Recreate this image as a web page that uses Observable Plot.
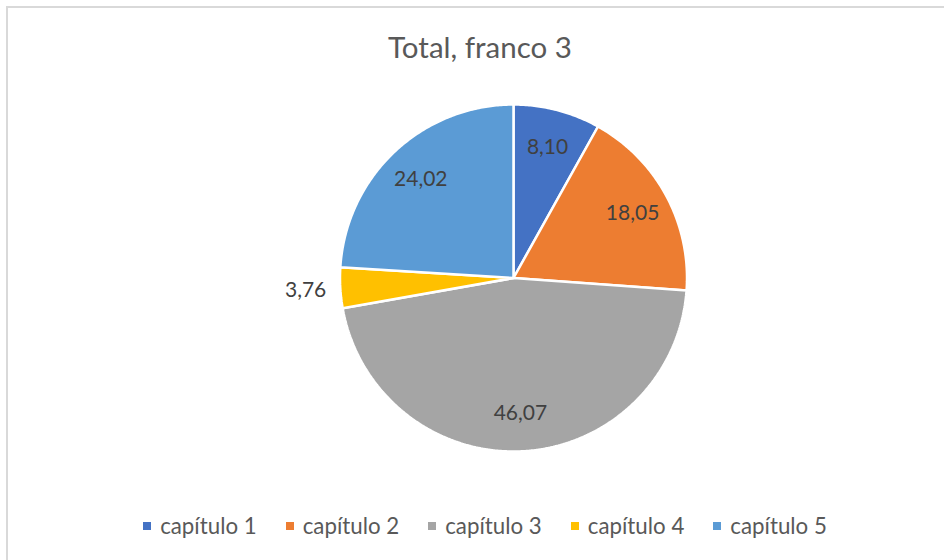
<!DOCTYPE html>
<html>
<head>
<meta charset="utf-8">
<script src="https://cdn.jsdelivr.net/npm/d3@7"></script>
<script src="https://cdn.jsdelivr.net/npm/@observablehq/plot@0.6"></script>
<style>
  html, body { margin: 0; padding: 0; background: #fff; overflow: hidden; }
  #wrap { position: relative; width: 944px; height: 560px; overflow: hidden; font-family: Lato, "Open Sans", sans-serif; }
  #frame { position: absolute; left: 6px; top: 6px; width: 1000px; height: 1000px; border: 2px solid #d9d9d9; box-sizing: border-box; pointer-events: none; }
  #title { height: 80px; text-align: center; font-size: 29.5px; color: #595959; line-height: 30px; padding-top: 32px; box-sizing: border-box; width: 960px; }
  #chart svg { display: block; }
  #legend { height: 60px; display: flex; justify-content: center; align-items: center; font-size: 22.3px; color: #595959; width: 970px; margin-top: -5px; }
  .item { display: flex; align-items: center; margin: 0 14.5px; }
  .sw { width: 8px; height: 8px; margin-right: 9px; margin-top: 2px; }
</style>
</head>
<body>
<div id="wrap">
  <div id="title">Total, franco 3</div>
  <div id="chart"></div>
  <div id="legend"></div>
  <div id="frame"></div>
</div>
<script>
const categories = ["capítulo 1", "capítulo 2", "capítulo 3", "capítulo 4", "capítulo 5"];
const values = [8.10, 18.05, 46.07, 3.76, 24.02];
const colors = ["#4472C4", "#ED7D31", "#A5A5A5", "#FFC000", "#5B9BD5"];

const fmt = d3.formatLocale({decimal: ",", thousands: ".", grouping: [3], currency: ["", ""]}).format(".2f");

const arcs = d3.pie().sort(null).value(d => d)(values);

// polygon outline of each slice (unit circle, angle measured clockwise from 12 o'clock)
const slicePts = [];
arcs.forEach((a, i) => {
  const cat = categories[i];
  slicePts.push({cat, x: 0, y: 0});
  const n = Math.max(2, Math.ceil((a.endAngle - a.startAngle) / 0.01));
  for (let k = 0; k <= n; k++) {
    const t = a.startAngle + (a.endAngle - a.startAngle) * k / n;
    slicePts.push({cat, x: Math.sin(t), y: Math.cos(t)});
  }
});

const total = d3.sum(values);
const labels = arcs.map((a, i) => {
  const mid = (a.startAngle + a.endAngle) / 2;
  const r = values[i] / total < 0.05 ? 1.2 : 0.78;
  return {cat: categories[i], x: r * Math.sin(mid), y: r * Math.cos(mid), text: fmt(values[i])};
});

const cx = 513, cy = 197.5, R = 173.5;

const chart = Plot.plot({
  width: 944,
  height: 420,
  margin: 0,
  x: {domain: [-1, 1], range: [cx - R, cx + R], axis: null},
  y: {domain: [-1, 1], range: [cy + R, cy - R], axis: null},
  color: {domain: categories, range: colors},
  marks: [
    Plot.line(slicePts, {x: "x", y: "y", z: "cat", fill: "cat", stroke: "white", strokeWidth: 2.5, strokeLinejoin: "miter", curve: "linear-closed"}),
    Plot.text(labels, {x: "x", y: "y", text: "text", fontSize: 21, fill: "#404040", fontFamily: "Lato, 'Open Sans', sans-serif"})
  ]
});
document.getElementById("chart").appendChild(chart);

const legend = document.getElementById("legend");
categories.forEach((c, i) => {
  const it = document.createElement("div");
  it.className = "item";
  const sw = document.createElement("div");
  sw.className = "sw";
  sw.style.background = colors[i];
  const tx = document.createElement("span");
  tx.textContent = c;
  it.appendChild(sw);
  it.appendChild(tx);
  legend.appendChild(it);
});
</script>
</body>
</html>
